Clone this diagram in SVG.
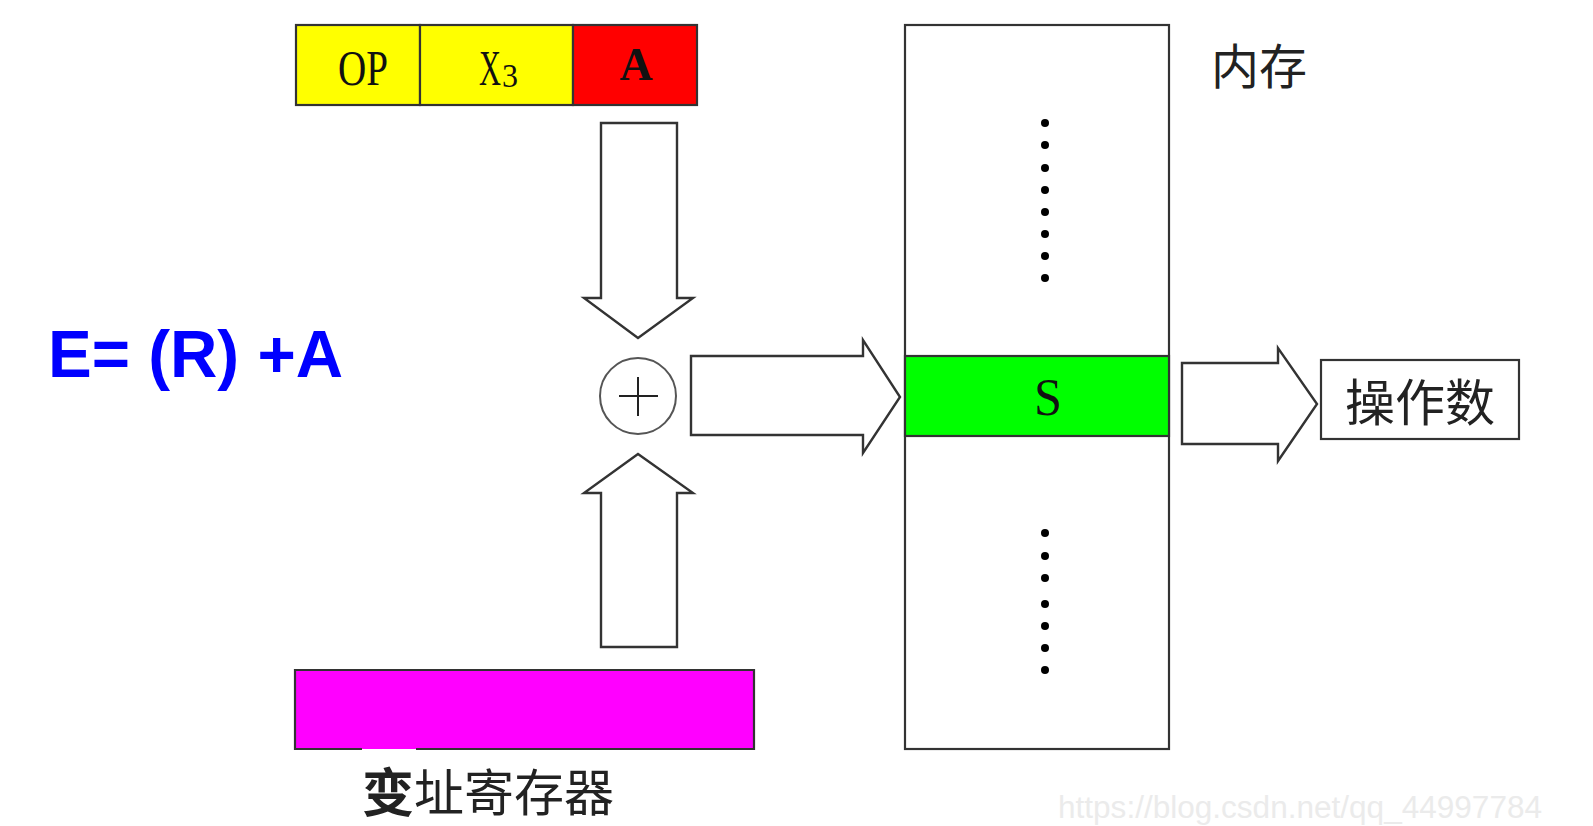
<svg xmlns="http://www.w3.org/2000/svg" width="1593" height="826" viewBox="0 0 1593 826">
<style>
.box{stroke:#333;stroke-width:2.2}
.arr{fill:#fff;stroke:#333;stroke-width:2.4;stroke-linejoin:miter}
.serif{font-family:"Liberation Serif","Times New Roman",serif;fill:#111}
.cjk{font-family:"Noto Sans CJK SC","Noto Sans CJK JP",sans-serif;fill:#222}
.dot{fill:#000}
</style>
<rect width="1593" height="826" fill="#fff"/>

<g id="instruction">
  <rect class="box" x="296" y="25" width="124" height="80" fill="#ffff00"/>
  <rect class="box" x="420" y="25" width="153" height="80" fill="#ffff00"/>
  <rect class="box" x="573" y="25" width="124" height="80" fill="#ff0000"/>
  <text class="serif" x="363" y="85" font-size="50" text-anchor="middle" textLength="50" lengthAdjust="spacingAndGlyphs">OP</text>
  <text class="serif" x="479" y="85" font-size="50"><tspan textLength="22" lengthAdjust="spacingAndGlyphs">X</tspan><tspan x="502" y="87" font-size="34" textLength="16" lengthAdjust="spacingAndGlyphs">3</tspan></text>
  <text class="serif" x="636" y="80" font-size="46" font-weight="bold" text-anchor="middle">A</text>
</g>

<g id="formula">
  <text x="48" y="377" font-family="Liberation Sans, Arial, sans-serif" font-size="66" font-weight="bold" fill="#0000ff" textLength="295" lengthAdjust="spacingAndGlyphs">E= (R) +A</text>
</g>

<g id="adder">
  <circle cx="638" cy="396" r="38" fill="#fff" stroke="#555" stroke-width="2"/>
  <line x1="619" y1="396" x2="658" y2="396" stroke="#222" stroke-width="2"/>
  <line x1="638" y1="377" x2="638" y2="416" stroke="#222" stroke-width="2"/>
</g>

<g id="register">
  <rect x="295" y="670" width="459" height="79" fill="#ff00ff"/>
  <path class="box" fill="none" d="M362,749 H295 V670 H754 V749 H416"/>
  <text class="cjk" x="362" y="812" font-size="52" font-weight="bold" fill="#000">变</text>
  <text class="cjk" x="414" y="811" font-size="50">址寄存器</text>
</g>

<g id="memory">
  <rect class="box" x="905" y="25" width="264" height="724" fill="#fff"/>
  <rect class="box" x="905" y="356" width="264" height="80" fill="#00ff00"/>
  <text class="serif" x="1048" y="415" font-size="52" text-anchor="middle" textLength="28" lengthAdjust="spacingAndGlyphs">S</text>
  <text class="cjk" x="1259" y="84" font-size="48" text-anchor="middle">内存</text>
  <g class="dot">
    <circle cx="1045" cy="123" r="4"/><circle cx="1045" cy="145" r="4"/><circle cx="1045" cy="168" r="4"/><circle cx="1045" cy="190" r="4"/>
    <circle cx="1045" cy="212" r="4"/><circle cx="1045" cy="234" r="4"/><circle cx="1045" cy="256" r="4"/><circle cx="1045" cy="278" r="4"/>
    <circle cx="1045" cy="533" r="4"/><circle cx="1045" cy="556" r="4"/><circle cx="1045" cy="578" r="4"/><circle cx="1045" cy="604" r="4"/>
    <circle cx="1045" cy="626" r="4"/><circle cx="1045" cy="648" r="4"/><circle cx="1045" cy="670" r="4"/>
  </g>
</g>

<g id="operand">
  <rect class="box" x="1321" y="360" width="198" height="79" fill="#fff"/>
  <text class="cjk" x="1420" y="421" font-size="50" text-anchor="middle">操作数</text>
</g>

<g id="connectors">
  <polygon class="arr" points="601,123 677,123 677,298 693,298 638,338 584,298 601,298"/>
  <polygon class="arr" points="601,647 677,647 677,493 693,493 638,454 584,493 601,493"/>
  <polygon class="arr" points="691,356 863,356 863,340 900,397 863,453 863,435 691,435"/>
  <polygon class="arr" points="1182,363 1278,363 1278,348 1317,404 1278,461 1278,444 1182,444"/>
</g>

<text x="1058" y="818" font-family="Liberation Sans, Arial, sans-serif" font-size="31" fill="#ebebeb" textLength="484" lengthAdjust="spacingAndGlyphs">https://blog.csdn.net/qq_44997784</text>
</svg>
